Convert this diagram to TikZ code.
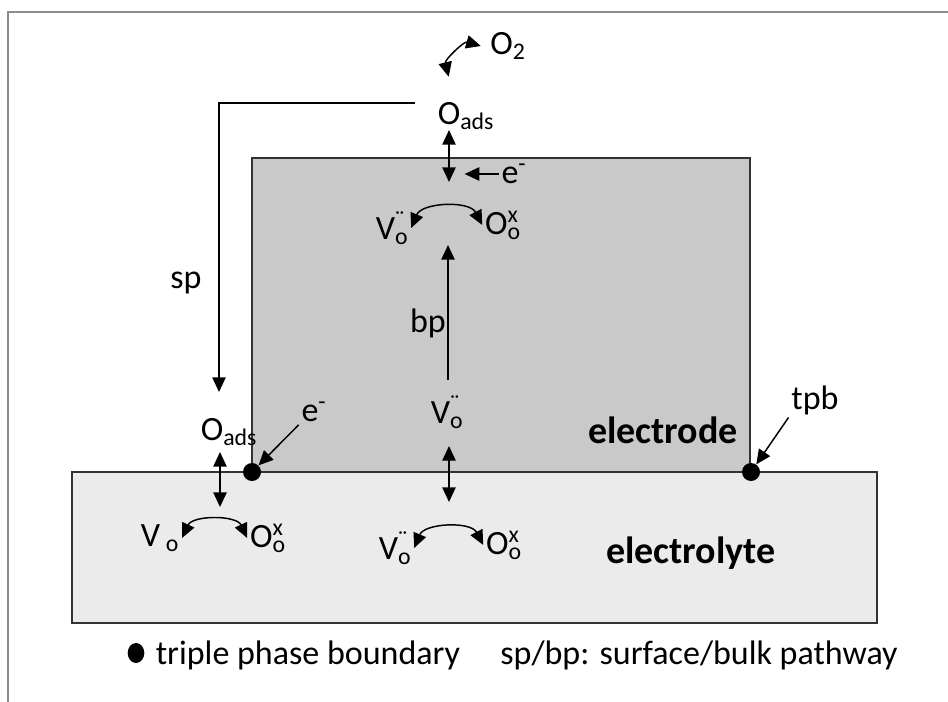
\documentclass[tikz,border=0pt]{standalone}
\usepackage{fontspec}
\setmainfont{Carlito}
\usetikzlibrary{arrows.meta,shapes.geometric}
\definecolor{electrodegray}{HTML}{C9C9C9}
\definecolor{electrolytegray}{HTML}{EBEBEB}
\definecolor{framegray}{HTML}{8C8C8C}
\newcommand{\Vdd}{V\rlap{\textsuperscript{¨}}\textsubscript{o}}
\newcommand{\Vplain}{V\,\textsubscript{o}}
\newcommand{\Oxo}{O\rlap{\textsuperscript{x}}\textsubscript{o}}
\tikzset{
  lbl/.style={inner sep=2pt, font=\fontsize{25.5}{30}\selectfont},
  bold lbl/.style={inner sep=2pt, font=\fontsize{28.5}{32}\selectfont\bfseries},
  tip/.style={-{Triangle[length=11pt,width=10pt]}, line width=1.1pt},
  dtip/.style={{Triangle[length=11pt,width=10pt]}-{Triangle[length=11pt,width=10pt]}, line width=1.1pt},
  tpbdot/.style={circle, fill=black, inner sep=0pt, minimum size=13.5pt},
}
\begin{document}
\begin{tikzpicture}[x=0.75pt,y=-0.75pt]
\useasboundingbox (0,0) rectangle (948,702);
\draw[framegray, line width=1.5pt] (8,702) -- (8,12) -- (948,12);

\draw[fill=electrodegray, draw=black!80, line width=1.1pt] (252,158) rectangle (750,472);
\draw[fill=electrolytegray, draw=black!80, line width=1.1pt] (72,472) rectangle (877,623);

\node[lbl] (o2) at (508,46) {O\textsubscript{2}};
\node[lbl] (oadsT) at (466,116) {O\textsubscript{ads}};
\node[lbl] (e1) at (514,174) {e\textsuperscript{-}};
\node[lbl] (vT) at (392,228) {\Vdd};
\node[lbl] (oT) at (503,225) {\Oxo};
\node[lbl] (bp) at (428,323) {bp};
\node[lbl] (vM) at (447,412) {\Vdd};
\node[lbl] (sp) at (186,283) {sp};
\node[lbl] (oadsL) at (229,432) {O\textsubscript{ads}};
\node[lbl] (e2) at (314,412) {e\textsuperscript{-}};
\node[lbl] (vL) at (160,538) {\Vplain};
\node[lbl] (oL) at (268,538) {\Oxo};
\node[lbl] (vB) at (395,548) {\Vdd};
\node[lbl] (oB) at (504,545) {\Oxo};
\node[bold lbl] (electrode) at (663,430) {electrode};
\node[bold lbl] (electrolyte) at (691,553) {electrolyte};
\node[lbl] (tpb) at (815,400) {tpb};

\node[tpbdot] (dL) at (252,472) {};
\node[tpbdot] (dR) at (751,472) {};

\node[ellipse, fill=black, inner sep=0pt, minimum width=12.5pt, minimum height=15pt] (bullet) at (136,653) {};
\node[lbl] (leg1) at (308,655) {triple phase boundary};
\node[lbl] (leg2) at (699,655) {sp/bp: surface/bulk pathway};

\coordinate (spstart) at (415,103);
\coordinate (spend) at (219,392);
\coordinate (topA) at (449,130);
\coordinate (topB) at (449,182);
\coordinate (bpA) at (448,380);
\coordinate (bpB) at (448,245);
\coordinate (midA) at (449,446);
\coordinate (midB) at (449,502);
\coordinate (leftA) at (220,452);
\coordinate (leftB) at (220,507);

\draw[dtip] ([xshift=-5pt]o2.west) to[bend right=60] ([shift={(-13pt,17pt)}]oadsT.north);
\draw[tip] (spstart) -| (spend);
\draw[dtip] (topA) -- (topB);
\draw[tip] (e1.west) -- ++(-34,0);
\draw[dtip] (vT.east) to[bend left=65] (oT.west);
\draw[tip] (bpA) -- (bpB);
\draw[dtip] (midA) -- (midB);
\draw[dtip] (vB.east) to[bend left=65] (oB.west);
\draw[dtip] (leftA) -- (leftB);
\draw[dtip] (vL.east) to[bend left=65] (oL.west);
\draw[tip] (e2.south west) -- (dL);
\draw[tip] (tpb.south west) -- (dR);
\end{tikzpicture}
\end{document}
